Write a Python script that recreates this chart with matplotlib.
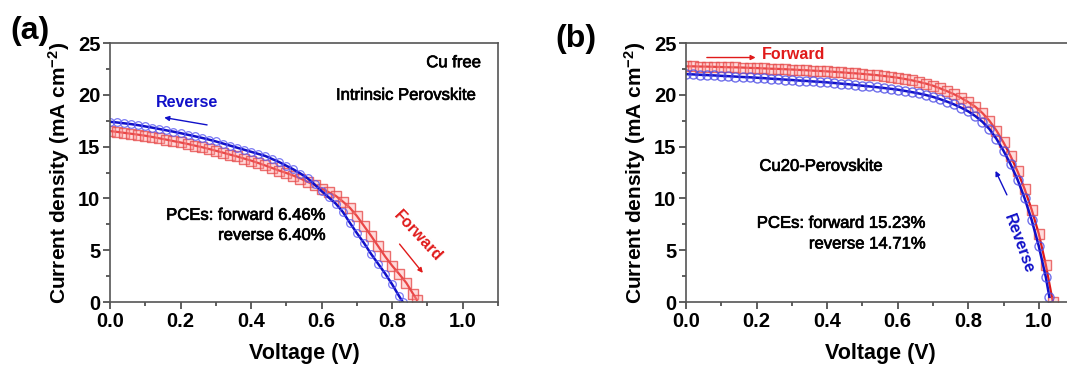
import matplotlib.pyplot as plt
import matplotlib.patheffects as pe
import numpy as np
from matplotlib.ticker import MultipleLocator

plt.rcParams['font.family'] = ['Liberation Sans', 'DejaVu Sans']
plt.rcParams['font.weight'] = 'bold'
plt.rcParams['axes.labelweight'] = 'bold'
plt.rcParams['mathtext.default'] = 'regular'

# panel (a): Cu free, intrinsic perovskite
va_rev = list(np.arange(0, 0.83, 0.02)) + [0.83]
ja_rev = [17.4, 17.33, 17.25, 17.17, 17.07, 16.95, 16.83, 16.7, 16.57, 16.44,
          16.3, 16.15, 16.0, 15.85, 15.68, 15.5, 15.3, 15.1, 14.9, 14.7,
          14.5, 14.3, 14.1, 13.8, 13.5, 13.15, 12.8, 12.4, 11.95, 11.35,
          10.7, 10.1, 9.5, 8.7, 7.65, 6.65, 5.7, 4.65, 3.7, 2.75,
          1.7, 0.55, 0.0]
va_fwd = list(np.arange(0, 0.87, 0.02)) + [0.87]
ja_fwd = [16.5, 16.42, 16.33, 16.24, 16.15, 16.05, 15.93, 15.8, 15.67, 15.53,
          15.4, 15.26, 15.1, 14.95, 14.78, 14.6, 14.42, 14.23, 14.05, 13.85,
          13.65, 13.42, 13.18, 12.93, 12.68, 12.45, 12.2, 11.92, 11.6, 11.3,
          10.95, 10.6, 10.25, 9.7, 9.1, 8.3, 7.35, 6.4, 5.4, 4.4,
          3.5, 2.7, 1.85, 0.75, 0.2]

# panel (b): Cu20 perovskite
vb_fwd = np.arange(0, 1.05, 0.02)
jb_fwd = [22.75, 22.75, 22.73, 22.72, 22.7, 22.68, 22.66, 22.65, 22.63, 22.6,
          22.58, 22.55, 22.52, 22.5, 22.47, 22.44, 22.4, 22.37, 22.33, 22.3,
          22.26, 22.22, 22.17, 22.12, 22.07, 22.02, 21.96, 21.9, 21.82, 21.74,
          21.65, 21.53, 21.4, 21.25, 21.08, 20.88, 20.62, 20.35, 20.05, 19.7,
          19.3, 18.85, 18.25, 17.5, 16.55, 15.4, 14.1, 12.6, 10.9, 8.9,
          6.6, 3.6, 0.0]
vb_rev = list(np.arange(0, 1.03, 0.02)) + [1.03]
jb_rev = [22.0, 21.97, 21.93, 21.9, 21.87, 21.83, 21.8, 21.76, 21.72, 21.69,
          21.65, 21.61, 21.56, 21.52, 21.47, 21.43, 21.38, 21.34, 21.29, 21.25,
          21.2, 21.14, 21.08, 21.02, 20.95, 20.88, 20.81, 20.74, 20.66, 20.58,
          20.5, 20.38, 20.26, 20.13, 19.98, 19.8, 19.58, 19.34, 19.07, 18.76,
          18.4, 17.95, 17.4, 16.7, 15.75, 14.6, 13.3, 11.8, 10.0, 7.9,
          5.4, 2.4, 0.5]

red = '#e01a1a'
blue = '#1010c8'
heavy = [pe.withStroke(linewidth=0.5, foreground='black')]

fig = plt.figure(figsize=(10.67, 3.67), dpi=100)
ax1 = fig.add_axes([0.1031, 0.1771, 0.3636, 0.7057])
ax2 = fig.add_axes([0.643, 0.1771, 0.3636, 0.7057])


def style(ax):
    ax.set_xlim(0, 1.1)
    ax.set_ylim(0, 25)
    ax.xaxis.set_major_locator(MultipleLocator(0.2))
    ax.xaxis.set_minor_locator(MultipleLocator(0.1))
    ax.yaxis.set_major_locator(MultipleLocator(5))
    ax.yaxis.set_minor_locator(MultipleLocator(2.5))
    ax.tick_params(which='both', direction='out', top=False, right=False,
                   colors='#333333', width=1.1)
    ax.tick_params(which='major', length=5, labelsize=14.5, labelcolor='black', pad=2)
    ax.tick_params(which='minor', length=3)
    ax.xaxis.set_major_formatter(plt.FuncFormatter(lambda v, p: '%.1f' % v))
    for s in ax.spines.values():
        s.set_color('#555555')
        s.set_linewidth(1.2)
    ax.set_xlabel('Voltage (V)', fontsize=15.5, fontweight='bold', labelpad=9)
    ax.set_ylabel('Current density (mA cm$^{-2}$)', fontsize=15,
                  fontweight='bold', labelpad=4)


def note(ax, x, y, s, **kw):
    ax.text(x, y, s, va='center', fontsize=12, fontweight='normal',
            path_effects=heavy, **kw)


# (a)
ax1.plot(va_fwd, ja_fwd, color=red, lw=1.6, marker='s', ms=6.5,
         mfc=(1, 0.6, 0.6, 0.35), mec=(0.9, 0.3, 0.3, 0.8), mew=1.0)
ax1.plot(va_rev, ja_rev, color=blue, lw=1.8, marker='o', ms=5.5,
         mfc='none', mec=(0.35, 0.35, 0.95, 0.8), mew=0.9)
style(ax1)
note(ax1, 1.052, 23.1, 'Cu free', ha='right')
note(ax1, 1.038, 19.95, 'Intrinsic Perovskite', ha='right')
note(ax1, 0.611, 8.37, 'PCEs: forward 6.46%', ha='right')
note(ax1, 0.611, 6.43, 'reverse 6.40%', ha='right')
ax1.text(0.217, 19.3, 'Reverse', color=blue, ha='center', va='center',
         fontsize=11.5)
ax1.annotate('', xy=(0.146, 17.85), xytext=(0.283, 17.05),
             arrowprops=dict(arrowstyle='-|>', color=blue, lw=1.0,
                             mutation_scale=7))
ax1.text(0.873, 6.4, 'Forward', color=red, ha='center', va='center',
         fontsize=11.5, rotation=-47)
ax1.annotate('', xy=(0.892, 2.6), xytext=(0.816, 5.8),
             arrowprops=dict(arrowstyle='-|>', color=red, lw=1.0,
                             mutation_scale=7))

# (b)
ax2.plot(vb_fwd, jb_fwd, color=red, lw=1.6, marker='s', ms=6.5,
         mfc=(1, 0.6, 0.6, 0.35), mec=(0.9, 0.3, 0.3, 0.8), mew=1.0)
ax2.plot(vb_rev, jb_rev, color=blue, lw=1.8, marker='o', ms=6.5,
         mfc='none', mec=(0.3, 0.3, 0.9, 0.8), mew=1.0)
style(ax2)
ax2.text(0.304, 23.9, 'Forward', color=red, ha='center', va='center',
         fontsize=11.5)
ax2.annotate('', xy=(0.205, 23.6), xytext=(0.051, 23.6),
             arrowprops=dict(arrowstyle='-|>', color=red, lw=1.0,
                             mutation_scale=7))
note(ax2, 0.383, 13.1, 'Cu20-Perovskite', ha='center')
note(ax2, 0.679, 7.6, 'PCEs: forward 15.23%', ha='right')
note(ax2, 0.679, 5.6, 'reverse 14.71%', ha='right')
ax2.text(0.944, 5.6, 'Reverse', color=blue, ha='center', va='center',
         fontsize=11.5, rotation=-70)
ax2.annotate('', xy=(0.874, 12.9), xytext=(0.913, 10.1),
             arrowprops=dict(arrowstyle='-|>', color=blue, lw=1.0,
                             mutation_scale=7))

fig.text(30 / 1067, 1 - 31 / 367, '(a)', fontsize=23, ha='center', va='center')
fig.text(576 / 1067, 1 - 39 / 367, '(b)', fontsize=23, ha='center', va='center')

fig.savefig('out.png', dpi=100)
